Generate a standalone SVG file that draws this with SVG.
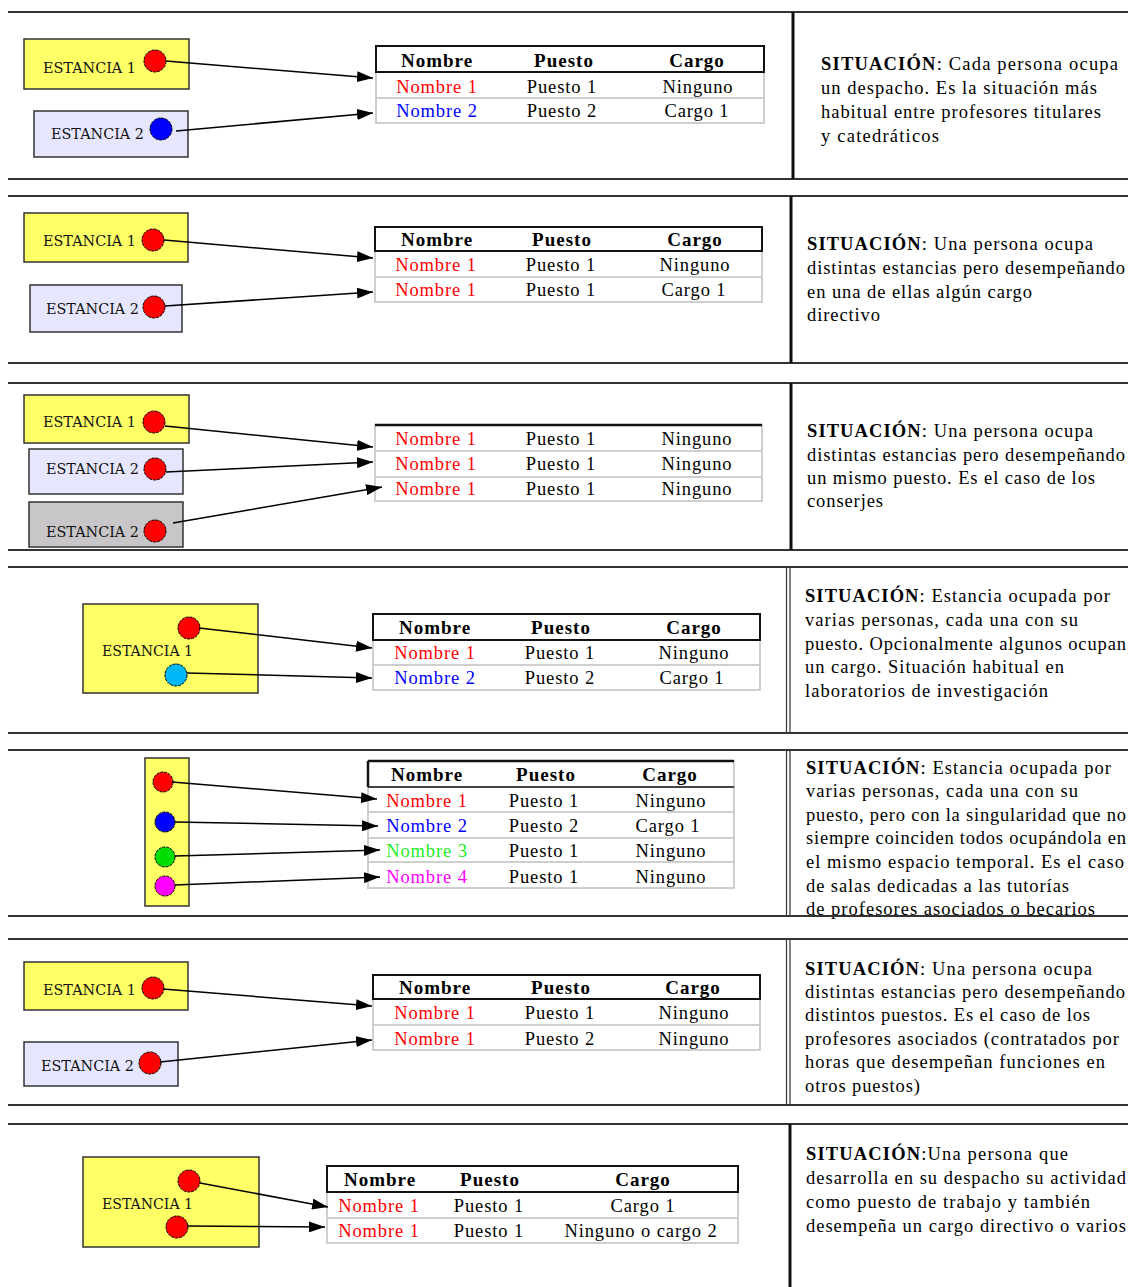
<svg xmlns="http://www.w3.org/2000/svg" width="1128" height="1287" viewBox="0 0 1128 1287">
<style>
.sep{stroke:#333;stroke-width:2}
.vl{stroke:#111;stroke-width:3}
.dl{stroke:#333;stroke-width:1.2}
.box{stroke:#333;stroke-width:1.5}
.y{fill:#ffff66}.lv{fill:#e6e6ff}.gr{fill:#c8c6c8}
.lbl{font-family:"DejaVu Serif",serif;font-size:14px;fill:#111}
.dot{stroke:#000;stroke-width:1;stroke-dasharray:3 1}
.tb{fill:#fff;stroke:#cfcfcf;stroke-width:2}
.rs{stroke:#cfcfcf;stroke-width:2}
.hd{fill:none;stroke:#111;stroke-width:2}
.th{font-family:"Liberation Serif",serif;font-size:19px;font-weight:bold;text-anchor:middle;letter-spacing:1px;fill:#000}
.td{font-family:"Liberation Serif",serif;font-size:18.5px;text-anchor:middle;letter-spacing:0.9px;fill:#000}
.r{fill:#ff0000}.b{fill:#0000ff}.g{fill:#22ee22}.m{fill:#ff00ff}
.desc{font-family:"Liberation Serif",serif;font-size:18.5px;fill:#000}
.bd{font-weight:bold}
.conn{stroke:#000;stroke-width:1.5;fill:none;marker-end:url(#arr)}
</style>
<defs>
<marker id="arr" markerUnits="userSpaceOnUse" markerWidth="17" markerHeight="11" refX="16" refY="5.5" orient="auto">
<path d="M0,0 L16,5.5 L0,11 z" fill="#000"/>
</marker>
</defs>

<g id="frame">
<line class="sep" x1="8" y1="12" x2="1128" y2="12"/>
<line class="sep" x1="8" y1="179" x2="1128" y2="179"/>
<line class="vl" x1="793" y1="12" x2="793" y2="179"/>
<line class="sep" x1="8" y1="196" x2="1128" y2="196"/>
<line class="sep" x1="8" y1="363" x2="1128" y2="363"/>
<line class="vl" x1="791" y1="196" x2="791" y2="363"/>
<line class="sep" x1="8" y1="383" x2="1128" y2="383"/>
<line class="sep" x1="8" y1="550" x2="1128" y2="550"/>
<line class="vl" x1="791" y1="383" x2="791" y2="550"/>
<line class="sep" x1="8" y1="567" x2="1128" y2="567"/>
<line class="sep" x1="8" y1="733" x2="1128" y2="733"/>
<line class="dl" x1="786.5" y1="567" x2="786.5" y2="733"/>
<line class="dl" x1="790" y1="567" x2="790" y2="733"/>
<line class="sep" x1="8" y1="750" x2="1128" y2="750"/>
<line class="dl" x1="786.5" y1="750" x2="786.5" y2="916"/>
<line class="dl" x1="790" y1="750" x2="790" y2="916"/>
<line class="sep" x1="8" y1="939" x2="1128" y2="939"/>
<line class="sep" x1="8" y1="1105" x2="1128" y2="1105"/>
<line class="dl" x1="786.5" y1="939" x2="786.5" y2="1105"/>
<line class="dl" x1="790" y1="939" x2="790" y2="1105"/>
<line class="sep" x1="8" y1="1124" x2="1128" y2="1124"/>
<line class="vl" x1="790" y1="1124" x2="790" y2="1287"/>
</g>

<!-- Panel 1 -->
<g id="p1-estancia1">
<rect class="box y" x="24" y="39" width="165" height="50"/>
<text class="lbl" x="43" y="73" textLength="93" lengthAdjust="spacingAndGlyphs">ESTANCIA 1</text>
<circle class="dot r" cx="155" cy="61" r="11"/>
</g>
<g id="p1-estancia2">
<rect class="box lv" x="34" y="111" width="154" height="46"/>
<text class="lbl" x="51" y="139" textLength="93" lengthAdjust="spacingAndGlyphs">ESTANCIA 2</text>
<circle class="dot b" cx="161" cy="129" r="11"/>
</g>
<g id="p1-table">
<rect class="tb" x="376" y="46" width="388" height="77"/>
<line class="rs" x1="376" y1="98" x2="764" y2="98"/>
<rect class="hd" x="376" y="46" width="388" height="26"/>
<text class="th" x="437" y="67">Nombre</text>
<text class="th" x="564" y="67">Puesto</text>
<text class="th" x="697" y="67">Cargo</text>
<text class="td r" x="437" y="93">Nombre 1</text>
<text class="td" x="562" y="93">Puesto 1</text>
<text class="td" x="698" y="93">Ninguno</text>
<text class="td b" x="437" y="117">Nombre 2</text>
<text class="td" x="562" y="117">Puesto 2</text>
<text class="td" x="697" y="117">Cargo 1</text>
</g>
<g id="p1-situacion" class="desc">
<text x="821" y="70" textLength="297" lengthAdjust="spacing"><tspan class="bd">SITUACIÓN</tspan>: Cada persona ocupa</text>
<text x="821" y="94" textLength="276" lengthAdjust="spacing">un despacho. Es la situación más</text>
<text x="821" y="118" textLength="280" lengthAdjust="spacing">habitual entre profesores titulares</text>
<text x="821" y="142" textLength="118" lengthAdjust="spacing">y catedráticos</text>
</g>

<!-- Panel 2 -->
<g id="p2-estancia1">
<rect class="box y" x="24" y="213" width="164" height="49"/>
<text class="lbl" x="43" y="246" textLength="93" lengthAdjust="spacingAndGlyphs">ESTANCIA 1</text>
<circle class="dot r" cx="153" cy="240" r="11"/>
</g>
<g id="p2-estancia2">
<rect class="box lv" x="30" y="285" width="152" height="47"/>
<text class="lbl" x="46" y="314" textLength="93" lengthAdjust="spacingAndGlyphs">ESTANCIA 2</text>
<circle class="dot r" cx="154" cy="307" r="11"/>
</g>
<g id="p2-table">
<rect class="tb" x="375" y="227" width="387" height="75"/>
<line class="rs" x1="375" y1="277" x2="762" y2="277"/>
<rect class="hd" x="375" y="227" width="387" height="24"/>
<text class="th" x="437" y="246">Nombre</text>
<text class="th" x="562" y="246">Puesto</text>
<text class="th" x="695" y="246">Cargo</text>
<text class="td r" x="436" y="271">Nombre 1</text>
<text class="td" x="561" y="271">Puesto 1</text>
<text class="td" x="695" y="271">Ninguno</text>
<text class="td r" x="436" y="296">Nombre 1</text>
<text class="td" x="561" y="296">Puesto 1</text>
<text class="td" x="694" y="296">Cargo 1</text>
</g>
<g id="p2-situacion" class="desc">
<text x="807" y="250" textLength="286" lengthAdjust="spacing"><tspan class="bd">SITUACIÓN</tspan>: Una persona ocupa</text>
<text x="807" y="274" textLength="318" lengthAdjust="spacing">distintas estancias pero desempeñando</text>
<text x="807" y="298" textLength="225" lengthAdjust="spacing">en una de ellas algún cargo</text>
<text x="807" y="321" textLength="73" lengthAdjust="spacing">directivo</text>
</g>

<!-- Panel 3 -->
<g id="p3-estancia1">
<rect class="box y" x="24" y="395" width="165" height="48"/>
<text class="lbl" x="43" y="427" textLength="93" lengthAdjust="spacingAndGlyphs">ESTANCIA 1</text>
<circle class="dot r" cx="154" cy="422" r="11"/>
</g>
<g id="p3-estancia2">
<rect class="box lv" x="29" y="449" width="154" height="45"/>
<text class="lbl" x="46" y="474" textLength="93" lengthAdjust="spacingAndGlyphs">ESTANCIA 2</text>
<circle class="dot r" cx="155" cy="469" r="11"/>
</g>
<g id="p3-estancia3">
<rect class="box gr" x="29" y="502" width="154" height="45"/>
<text class="lbl" x="46" y="537" textLength="93" lengthAdjust="spacingAndGlyphs">ESTANCIA 2</text>
<circle class="dot r" cx="155" cy="531" r="11"/>
</g>
<g id="p3-table">
<rect class="tb" x="375" y="425" width="387" height="76"/>
<line class="rs" x1="375" y1="451" x2="762" y2="451"/>
<line class="rs" x1="375" y1="477" x2="762" y2="477"/>
<line stroke="#111" stroke-width="2.5" x1="375" y1="425" x2="762" y2="425"/>
<text class="td r" x="436" y="445">Nombre 1</text>
<text class="td" x="561" y="445">Puesto 1</text>
<text class="td" x="697" y="445">Ninguno</text>
<text class="td r" x="436" y="470">Nombre 1</text>
<text class="td" x="561" y="470">Puesto 1</text>
<text class="td" x="697" y="470">Ninguno</text>
<text class="td r" x="436" y="495">Nombre 1</text>
<text class="td" x="561" y="495">Puesto 1</text>
<text class="td" x="697" y="495">Ninguno</text>
</g>
<g id="p3-situacion" class="desc">
<text x="807" y="437" textLength="286" lengthAdjust="spacing"><tspan class="bd">SITUACIÓN</tspan>: Una persona ocupa</text>
<text x="807" y="461" textLength="318" lengthAdjust="spacing">distintas estancias pero desempeñando</text>
<text x="807" y="484" textLength="288" lengthAdjust="spacing">un mismo puesto. Es el caso de los</text>
<text x="807" y="507" textLength="76" lengthAdjust="spacing">conserjes</text>
</g>

<!-- Panel 4 -->
<g id="p4-estancia1">
<rect class="box y" x="83" y="604" width="175" height="89"/>
<text class="lbl" x="102" y="656" textLength="91" lengthAdjust="spacingAndGlyphs">ESTANCIA 1</text>
<circle class="dot r" cx="189" cy="628" r="11"/>
<circle class="dot" fill="#00b8f8" cx="176" cy="675" r="11"/>
</g>
<g id="p4-table">
<rect class="tb" x="373" y="614" width="387" height="76"/>
<line class="rs" x1="373" y1="665" x2="760" y2="665"/>
<rect class="hd" x="373" y="614" width="387" height="26"/>
<text class="th" x="435" y="634">Nombre</text>
<text class="th" x="561" y="634">Puesto</text>
<text class="th" x="694" y="634">Cargo</text>
<text class="td r" x="435" y="659">Nombre 1</text>
<text class="td" x="560" y="659">Puesto 1</text>
<text class="td" x="694" y="659">Ninguno</text>
<text class="td b" x="435" y="684">Nombre 2</text>
<text class="td" x="560" y="684">Puesto 2</text>
<text class="td" x="692" y="684">Cargo 1</text>
</g>
<g id="p4-situacion" class="desc">
<text x="805" y="602" textLength="305" lengthAdjust="spacing"><tspan class="bd">SITUACIÓN</tspan>: Estancia ocupada por</text>
<text x="805" y="626" textLength="273" lengthAdjust="spacing">varias personas, cada una con su</text>
<text x="805" y="650" textLength="321" lengthAdjust="spacing">puesto. Opcionalmente algunos ocupan</text>
<text x="805" y="673" textLength="259" lengthAdjust="spacing">un cargo. Situación habitual en</text>
<text x="805" y="697" textLength="243" lengthAdjust="spacing">laboratorios de investigación</text>
</g>

<!-- Panel 5 -->
<g id="p5-estancia">
<rect class="box y" x="145" y="758" width="44" height="148"/>
<circle class="dot r" cx="163" cy="782" r="10"/>
<circle class="dot b" cx="165" cy="822" r="10"/>
<circle class="dot" fill="#00dd00" cx="165" cy="857" r="10"/>
<circle class="dot m" cx="165" cy="886" r="10"/>
</g>
<g id="p5-table">
<rect class="tb" x="368" y="761" width="366" height="127"/>
<line class="rs" x1="368" y1="812" x2="734" y2="812"/>
<line class="rs" x1="368" y1="838" x2="734" y2="838"/>
<line class="rs" x1="368" y1="862" x2="734" y2="862"/>
<line stroke="#444" stroke-width="2" x1="368" y1="787" x2="734" y2="787"/>
<line stroke="#111" stroke-width="2.5" x1="368" y1="761" x2="734" y2="761"/>
<line stroke="#111" stroke-width="2.5" x1="368" y1="761" x2="368" y2="787"/>
<text class="th" x="427" y="781">Nombre</text>
<text class="th" x="546" y="781">Puesto</text>
<text class="th" x="670" y="781">Cargo</text>
<text class="td r" x="427" y="807">Nombre 1</text>
<text class="td" x="544" y="807">Puesto 1</text>
<text class="td" x="671" y="807">Ninguno</text>
<text class="td b" x="427" y="832">Nombre 2</text>
<text class="td" x="544" y="832">Puesto 2</text>
<text class="td" x="668" y="832">Cargo 1</text>
<text class="td g" x="427" y="857">Nombre 3</text>
<text class="td" x="544" y="857">Puesto 1</text>
<text class="td" x="671" y="857">Ninguno</text>
<text class="td m" x="427" y="883">Nombre 4</text>
<text class="td" x="544" y="883">Puesto 1</text>
<text class="td" x="671" y="883">Ninguno</text>
</g>
<g id="p5-situacion" class="desc">
<text x="806" y="774" textLength="305" lengthAdjust="spacing"><tspan class="bd">SITUACIÓN</tspan>: Estancia ocupada por</text>
<text x="806" y="797" textLength="272" lengthAdjust="spacing">varias personas, cada una con su</text>
<text x="806" y="821" textLength="320" lengthAdjust="spacing">puesto, pero con la singularidad que no</text>
<text x="806" y="844" textLength="320" lengthAdjust="spacing">siempre coinciden todos ocupándola en</text>
<text x="806" y="868" textLength="318" lengthAdjust="spacing">el mismo espacio temporal. Es el caso</text>
<text x="806" y="892" textLength="263" lengthAdjust="spacing">de salas dedicadas a las tutorías</text>
<text x="806" y="915" textLength="289" lengthAdjust="spacing">de profesores asociados o becarios</text>
</g>
<line class="sep" x1="8" y1="916" x2="1128" y2="916"/>

<!-- Panel 6 -->
<g id="p6-estancia1">
<rect class="box y" x="24" y="962" width="164" height="48"/>
<text class="lbl" x="43" y="995" textLength="93" lengthAdjust="spacingAndGlyphs">ESTANCIA 1</text>
<circle class="dot r" cx="153" cy="988" r="11"/>
</g>
<g id="p6-estancia2">
<rect class="box lv" x="24" y="1042" width="154" height="44"/>
<text class="lbl" x="41" y="1071" textLength="93" lengthAdjust="spacingAndGlyphs">ESTANCIA 2</text>
<circle class="dot r" cx="150" cy="1063" r="11"/>
</g>
<g id="p6-table">
<rect class="tb" x="373" y="975" width="387" height="75"/>
<line class="rs" x1="373" y1="1025" x2="760" y2="1025"/>
<rect class="hd" x="373" y="975" width="387" height="24"/>
<text class="th" x="435" y="994">Nombre</text>
<text class="th" x="561" y="994">Puesto</text>
<text class="th" x="693" y="994">Cargo</text>
<text class="td r" x="435" y="1019">Nombre 1</text>
<text class="td" x="560" y="1019">Puesto 1</text>
<text class="td" x="694" y="1019">Ninguno</text>
<text class="td r" x="435" y="1045">Nombre 1</text>
<text class="td" x="560" y="1045">Puesto 2</text>
<text class="td" x="694" y="1045">Ninguno</text>
</g>
<g id="p6-situacion" class="desc">
<text x="805" y="975" textLength="287" lengthAdjust="spacing"><tspan class="bd">SITUACIÓN</tspan>: Una persona ocupa</text>
<text x="805" y="998" textLength="320" lengthAdjust="spacing">distintas estancias pero desempeñando</text>
<text x="805" y="1021" textLength="285" lengthAdjust="spacing">distintos puestos. Es el caso de los</text>
<text x="805" y="1045" textLength="314" lengthAdjust="spacing">profesores asociados (contratados por</text>
<text x="805" y="1068" textLength="300" lengthAdjust="spacing">horas que desempeñan funciones en</text>
<text x="805" y="1092" textLength="115" lengthAdjust="spacing">otros puestos)</text>
</g>

<!-- Panel 7 -->
<g id="p7-estancia1">
<rect class="box y" x="83" y="1157" width="176" height="90"/>
<text class="lbl" x="102" y="1209" textLength="91" lengthAdjust="spacingAndGlyphs">ESTANCIA 1</text>
<circle class="dot r" cx="189" cy="1181" r="11"/>
<circle class="dot r" cx="177" cy="1227" r="11"/>
</g>
<g id="p7-table">
<rect class="tb" x="327" y="1166" width="411" height="77"/>
<line class="rs" x1="327" y1="1218" x2="738" y2="1218"/>
<rect class="hd" x="327" y="1166" width="411" height="26"/>
<text class="th" x="380" y="1186">Nombre</text>
<text class="th" x="490" y="1186">Puesto</text>
<text class="th" x="643" y="1186">Cargo</text>
<text class="td r" x="379" y="1212">Nombre 1</text>
<text class="td" x="489" y="1212">Puesto 1</text>
<text class="td" x="643" y="1212">Cargo 1</text>
<text class="td r" x="379" y="1237">Nombre 1</text>
<text class="td" x="489" y="1237">Puesto 1</text>
<text class="td" x="641" y="1237">Ninguno o cargo 2</text>
</g>
<g id="p7-situacion" class="desc">
<text x="806" y="1160" textLength="262" lengthAdjust="spacing"><tspan class="bd">SITUACIÓN</tspan>:Una persona que</text>
<text x="806" y="1184" textLength="320" lengthAdjust="spacing">desarrolla en su despacho su actividad</text>
<text x="806" y="1208" textLength="284" lengthAdjust="spacing">como puesto de trabajo y también</text>
<text x="806" y="1232" textLength="320" lengthAdjust="spacing">desempeña un cargo directivo o varios</text>
</g>

<g id="connectors">
<path class="conn" d="M166,61 L373,78"/>
<path class="conn" d="M176,131 L373,113"/>
<path class="conn" d="M164,240 L373,258"/>
<path class="conn" d="M165,306 L373,292"/>
<path class="conn" d="M165,426 L373,447"/>
<path class="conn" d="M166,472 L373,462"/>
<path class="conn" d="M173,523 L382,487"/>
<path class="conn" d="M199,628 L372,648"/>
<path class="conn" d="M187,673 L372,678"/>
<path class="conn" d="M172,782 L377,799"/>
<path class="conn" d="M175,822 L378,826"/>
<path class="conn" d="M175,856 L380,850"/>
<path class="conn" d="M175,885 L380,877"/>
<path class="conn" d="M163,989 L372,1006"/>
<path class="conn" d="M160,1062 L372,1040"/>
<path class="conn" d="M200,1183 L328,1207"/>
<path class="conn" d="M187,1226 L325,1227"/>
</g>
</svg>
